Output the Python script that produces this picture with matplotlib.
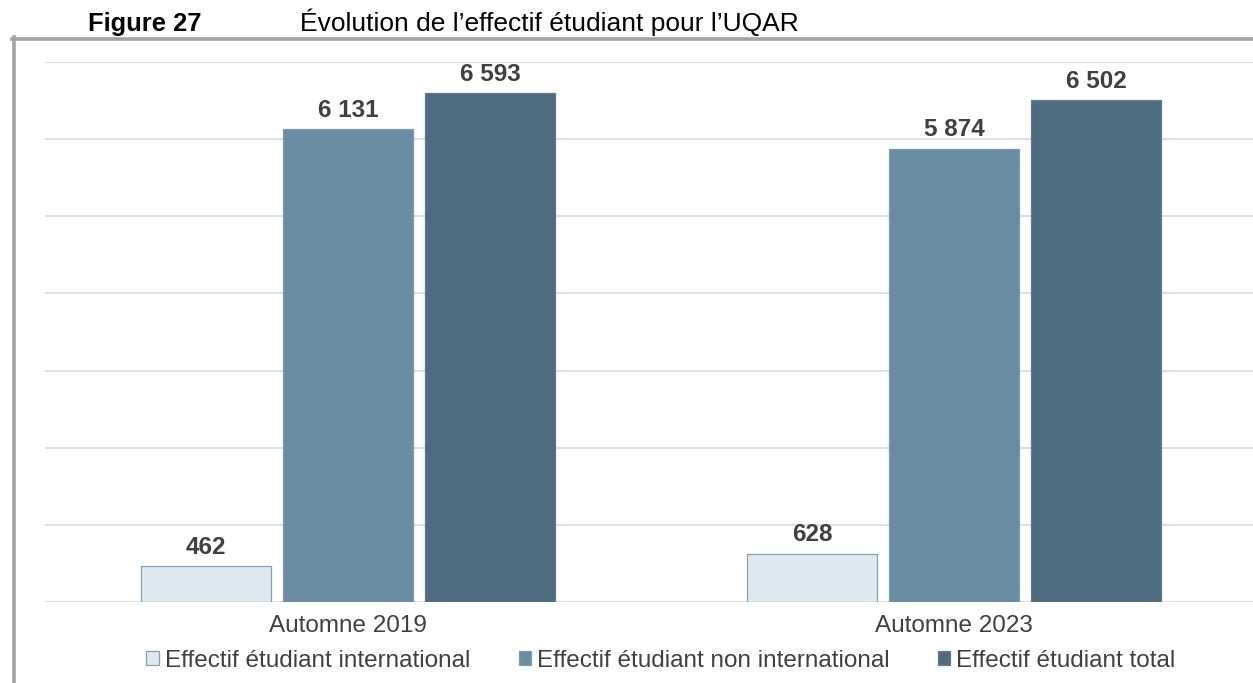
import numpy as np
import matplotlib.pyplot as plt
from matplotlib.lines import Line2D

plt.rcParams['font.family'] = ['Liberation Sans', 'DejaVu Sans']

# Data
periodes = ['Automne 2019', 'Automne 2023']
series = ['Effectif étudiant international',
          'Effectif étudiant non international',
          'Effectif étudiant total']
international = [462, 628]
non_international = [6131, 5874]
total = [6593, 6502]

couleurs = ['#e0e8ef', '#6a8ca3', '#4e6b7f']
bords = ['#86a1b3', '#7d9bb0', '#5f7b8f']
txt = '#404040'
fs = 17.5

def fmt(v):
    # separateur de milliers avec espace
    return '{:,}'.format(v).replace(',', ' ')

W, H = 1253, 683
fig = plt.figure(figsize=(W / 100, H / 100), dpi=100)
ax = fig.add_axes([45 / W, (H - 602) / H, 1208 / W, 540 / H])

x = np.arange(len(periodes))
bw = 130 / 606
step = 142 / 606
valeurs = [international, non_international, total]

for i, vals in enumerate(valeurs):
    bars = ax.bar(x + (i - 1) * step, vals, width=bw, color=couleurs[i],
                  edgecolor=bords[i], linewidth=0.9, zorder=3, label=series[i])
    for b, v in zip(bars, vals):
        ax.annotate(fmt(v), (b.get_x() + b.get_width() / 2, b.get_height()),
                    xytext=(0, 9), textcoords='offset points', ha='center',
                    va='baseline', fontsize=fs, fontweight='bold', color=txt)

ax.set_xlim(-0.5, 1.5 - 4 / 606)
ax.set_ylim(0, 7000)
ax.set_yticks(np.arange(0, 7001, 1000))
ax.yaxis.grid(True, color='#e0e0e0', linewidth=1.5)
ax.set_axisbelow(True)
ax.tick_params(axis='y', left=False, labelleft=False)
ax.set_xticks(x)
ax.set_xticklabels(periodes, fontsize=fs, color=txt)
ax.tick_params(axis='x', length=0, pad=9)
for s in ax.spines.values():
    s.set_visible(False)

# legende
handles = [plt.Rectangle((0, 0), 1, 1, facecolor=couleurs[i], edgecolor=bords[i],
                         linewidth=0.9) for i in range(3)]
leg = fig.legend(handles, series, loc='center', bbox_to_anchor=(661 / W, 1 - 661 / H),
                 ncol=3, frameon=False, fontsize=fs, handlelength=0.5,
                 handleheight=0.5, handletextpad=0.25, columnspacing=2.0,
                 borderaxespad=0, borderpad=0)
for t in leg.get_texts():
    t.set_color(txt)

# cadre gris
fig.add_artist(Line2D([12 / W, 1], [1 - 38.5 / H, 1 - 38.5 / H], color='#a3a3a3',
                      linewidth=2.6, transform=fig.transFigure))
fig.add_artist(Line2D([14 / W, 14 / W], [0, 1 - 37 / H], color='#a3a3a3',
                      linewidth=2.6, transform=fig.transFigure))

# titre
fig.text(88 / W, 1 - 31 / H, 'Figure 27', fontsize=18.4, fontweight='bold',
         color='black', va='baseline')
fig.text(300 / W, 1 - 31 / H, 'Évolution de l\u2019effectif étudiant pour l\u2019UQAR',
         fontsize=19, color='black', va='baseline')

fig.savefig('out.png', dpi=100)
